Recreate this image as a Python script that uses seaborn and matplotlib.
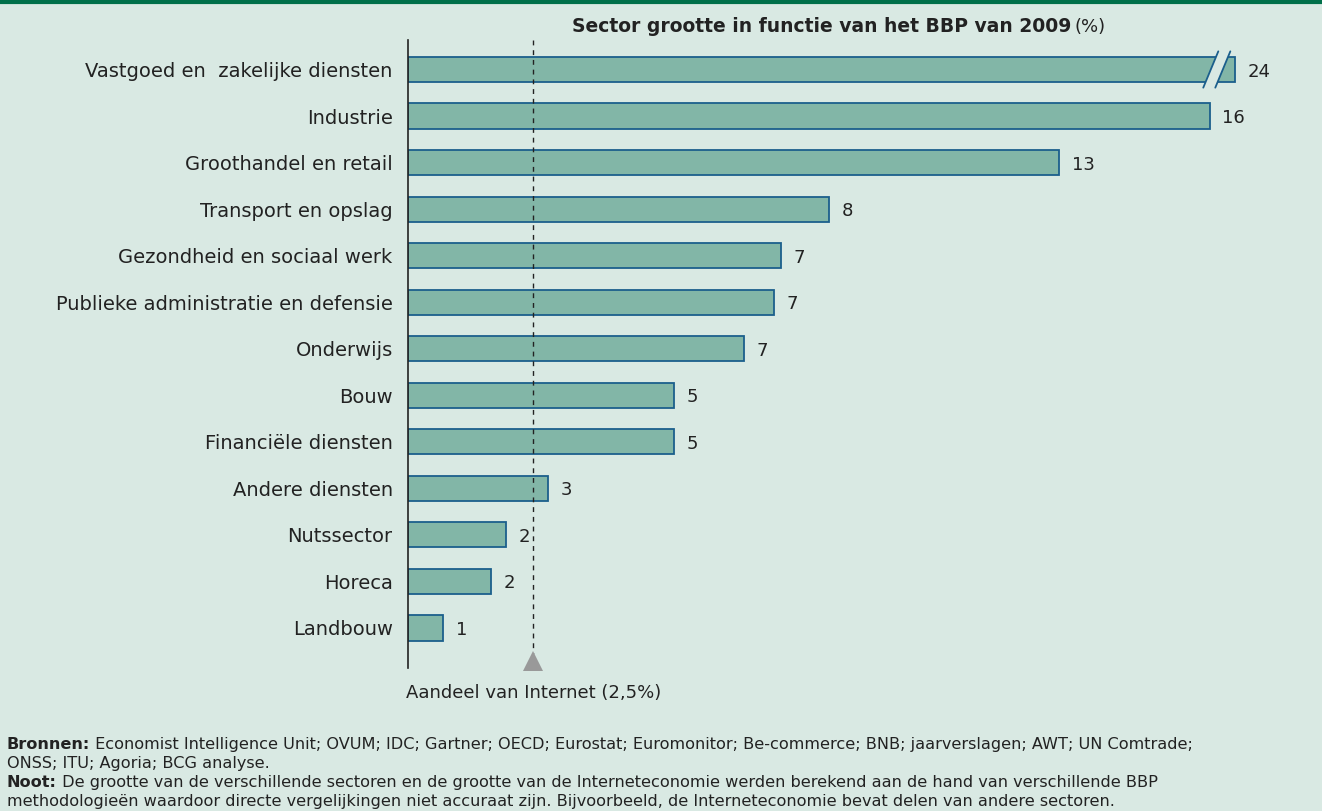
"""Sector size as share of 2009 GDP, with internet share marker."""

import matplotlib.pyplot as plt
import numpy as np
import pandas as pd
import seaborn as sns
from matplotlib.patches import Polygon

# Data
sectors = [
    "Vastgoed en  zakelijke diensten",
    "Industrie",
    "Groothandel en retail",
    "Transport en opslag",
    "Gezondheid en sociaal werk",
    "Publieke administratie en defensie",
    "Onderwijs",
    "Bouw",
    "Financiële diensten",
    "Andere diensten",
    "Nutssector",
    "Horeca",
    "Landbouw",
]
shares = [24, 16, 13, 8.4, 7.45, 7.3, 6.7, 5.3, 5.3, 2.8, 1.95, 1.65, 0.7]
share_labels = ["24", "16", "13", "8", "7", "7", "7", "5", "5", "3", "2", "2", "1"]
internet_share = 2.5
axis_break = 16.5  # bars longer than this are cut with a break mark

# Colours
bg = "#d9e9e3"
bar_fill = "#82b6a7"
bar_edge = "#1b5f8c"
text_col = "#222222"

sns.set_style("white")
plt.rcParams["font.family"] = ["DejaVu Sans"]

df = pd.DataFrame({"sector": sectors, "share": shares})
df["shown"] = np.minimum(df["share"], axis_break)

W, H = 1322, 811
fig = plt.figure(figsize=(W / 100, H / 100), dpi=100, facecolor=bg)
ax = fig.add_axes([408 / W, 1 - 668 / H, (1310 - 408) / W, (668 - 40) / H])
ax.set_facecolor(bg)

sns.barplot(
    data=df,
    x="shown",
    y="sector",
    orient="h",
    color=bar_fill,
    edgecolor=bar_edge,
    linewidth=1.3,
    width=0.54,
    saturation=1,
    ax=ax,
)

ax.set_xlim(0, 18)
ax.set_ylim(12.86, -0.634)
ax.set_xlabel("")
ax.set_ylabel("")
ax.set_xticks([])
ax.tick_params(axis="y", length=0, pad=11, labelsize=14, labelcolor=text_col)
for side in ["top", "right", "bottom"]:
    ax.spines[side].set_visible(False)
ax.spines["left"].set_color("#222222")
ax.spines["left"].set_linewidth(1.2)

# Value labels
for i, (v, lab) in enumerate(zip(df["shown"], share_labels)):
    ax.annotate(
        lab,
        xy=(v, i),
        xytext=(9, 0),
        textcoords="offset points",
        va="center_baseline",
        ha="left",
        fontsize=13,
        color=text_col,
    )

# Break marks on truncated bars
for i, v in enumerate(df["share"]):
    if v <= axis_break:
        continue
    xb, gap, dx, dy = axis_break - 0.36, 0.12, 0.15, 0.39
    gap_poly = Polygon(
        [
            (xb - gap - dx, i + dy),
            (xb - gap + dx, i - dy),
            (xb + gap + dx, i - dy),
            (xb + gap - dx, i + dy),
        ],
        closed=True,
        facecolor=bg,
        edgecolor="none",
        zorder=5,
    )
    ax.add_patch(gap_poly)
    for off in (-gap, gap):
        ax.plot(
            [xb + off - dx, xb + off + dx],
            [i + dy, i - dy],
            color=bar_edge,
            linewidth=1.3,
            zorder=6,
            clip_on=False,
        )

# Internet share reference line and marker
ax.plot(
    [internet_share, internet_share],
    [-0.634, 12.55],
    color="#222222",
    linestyle=(0, (3.5, 3.5)),
    linewidth=1,
    clip_on=False,
)
ax.plot(
    internet_share,
    12.72,
    marker="^",
    markersize=15,
    color="#999999",
    markeredgewidth=0,
    clip_on=False,
)
ax.annotate(
    "Aandeel van Internet (2,5%)",
    xy=(internet_share, 12.86),
    xytext=(0, -18),
    textcoords="offset points",
    ha="center",
    va="center",
    fontsize=13,
    color=text_col,
    annotation_clip=False,
)

# Title
fig.text(1071 / W, 1 - 27 / H, "Sector grootte in functie van het BBP van 2009",
         ha="right", va="center", fontsize=13.5, fontweight="bold", color=text_col)
fig.text(1075 / W, 1 - 27 / H, "(%)", ha="left", va="center", fontsize=13,
         color=text_col)

# Top border line
fig.add_artist(plt.Line2D([0, 1], [1 - 1.5 / H, 1 - 1.5 / H],
                          transform=fig.transFigure, color="#00704a", linewidth=3))

# Footnotes
foot_size = 11.6
lines = [
    ("Bronnen:", " Economist Intelligence Unit; OVUM; IDC; Gartner; OECD; Eurostat; "
     "Euromonitor; Be-commerce; BNB; jaarverslagen; AWT; UN Comtrade;"),
    ("", "ONSS; ITU; Agoria; BCG analyse."),
    ("Noot:", " De grootte van de verschillende sectoren en de grootte van de "
     "Interneteconomie werden berekend aan de hand van verschillende BBP"),
    ("", "methodologieën waardoor directe vergelijkingen niet accuraat zijn. "
     "Bijvoorbeeld, de Interneteconomie bevat delen van andere sectoren."),
]
y_pos = [743, 762, 781, 800]
renderer = fig.canvas.get_renderer()
for (bold, rest), yp in zip(lines, y_pos):
    x0 = 7 / W
    if bold:
        t = fig.text(x0, 1 - yp / H, bold, ha="left", va="center_baseline",
                     fontsize=foot_size, fontweight="bold", color=text_col)
        x0 = fig.transFigure.inverted().transform(
            (t.get_window_extent(renderer).x1, 0))[0]
    fig.text(x0, 1 - yp / H, rest, ha="left", va="center_baseline",
             fontsize=foot_size, color=text_col)

fig.savefig("out.png", dpi=100, facecolor=bg)
plt.close()
